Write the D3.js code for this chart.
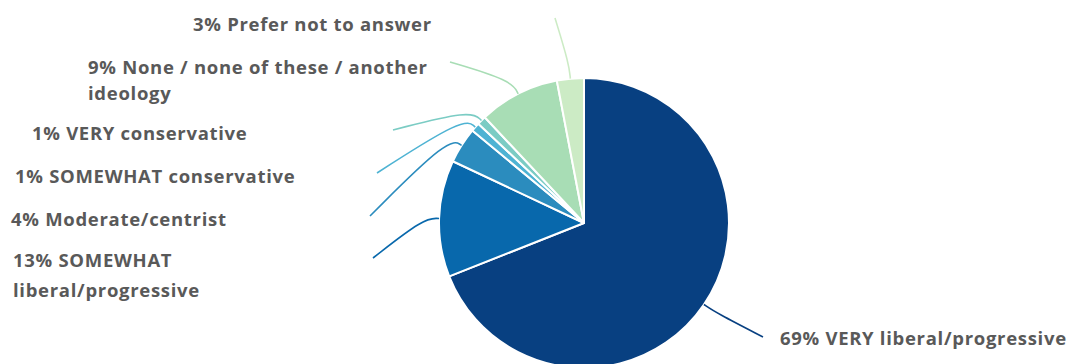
<!DOCTYPE html>
<html>
<head>
<meta charset="utf-8">
<script src="https://cdn.jsdelivr.net/npm/d3@7"></script>
<style>
  html, body { margin: 0; padding: 0; background: #ffffff; }
  svg { display: block; }
  .lbl { font-family: "Open Sans", "Noto Sans", sans-serif; font-weight: 700; font-size: 18.5px; letter-spacing: 0.7px; fill: #595959; }
</style>
</head>
<body>
<svg id="chart" width="1070" height="364"></svg>
<script>
// Political ideology of respondents (percent)
const categories = [
  "VERY liberal/progressive",
  "SOMEWHAT liberal/progressive",
  "Moderate/centrist",
  "SOMEWHAT conservative",
  "VERY conservative",
  "None / none of these / another ideology",
  "Prefer not to answer"
];
const values = [69, 13, 4, 1, 1, 9, 3];
const colors = ["#084081", "#0868ac", "#2b8cbe", "#4eb3d3", "#7bccc4", "#a8ddb5", "#ccebc5"];

// Label text, split into display lines
const labelLines = [
  ["69% VERY liberal/progressive"],
  ["13% SOMEWHAT", "liberal/progressive"],
  ["4% Moderate/centrist"],
  ["1% SOMEWHAT conservative"],
  ["1% VERY conservative"],
  ["9% None / none of these / another", "ideology"],
  ["3% Prefer not to answer"]
];

// Where each label sits and where its leader line ends
const labelLayout = [
  { x: 780, y: 345, lineH: 0,  end: [763, 337] },
  { x: 13,  y: 267, lineH: 30, end: [373, 258] },
  { x: 11,  y: 226, lineH: 0,  end: [370, 216] },
  { x: 15,  y: 183, lineH: 0,  end: [377, 173] },
  { x: 32,  y: 140, lineH: 0,  end: [393, 130] },
  { x: 88,  y: 74,  lineH: 26, end: [450, 62] },
  { x: 193, y: 31,  lineH: 0,  end: [555, 18] }
];

const cx = 584, cy = 223, radius = 145;
const svg = d3.select("#chart");
const g = svg.append("g").attr("transform", `translate(${cx},${cy})`);

const pie = d3.pie().sort(null).value(d => d)(values);
const arc = d3.arc().innerRadius(0).outerRadius(radius);

g.selectAll("path.slice")
  .data(pie)
  .join("path")
  .attr("class", "slice")
  .attr("d", arc)
  .attr("fill", (d, i) => colors[i])
  .attr("stroke", "#ffffff")
  .attr("stroke-width", 2)
  .attr("stroke-linejoin", "round");

// Leader lines: from the slice's outer edge, out along its mid angle, then to the label
const leader = d3.line().curve(d3.curveBasis);
function polar(a, r) { return [cx + r * Math.sin(a), cy - r * Math.cos(a)]; }

svg.selectAll("path.leader")
  .data(pie)
  .join("path")
  .attr("class", "leader")
  .attr("d", (d, i) => {
    const mid = (d.startAngle + d.endAngle) / 2;
    return leader([polar(mid, radius), polar(mid, radius + 15), labelLayout[i].end]);
  })
  .attr("fill", "none")
  .attr("stroke", (d, i) => colors[i])
  .attr("stroke-width", 1.6);

const labels = svg.selectAll("text.lbl")
  .data(labelLines)
  .join("text")
  .attr("class", "lbl")
  .attr("x", (d, i) => labelLayout[i].x)
  .attr("y", (d, i) => labelLayout[i].y);

labels.selectAll("tspan")
  .data((d, i) => d.map((t, j) => ({ t, j, i })))
  .join("tspan")
  .attr("x", d => labelLayout[d.i].x)
  .attr("dy", d => d.j === 0 ? 0 : labelLayout[d.i].lineH)
  .text(d => d.t);
</script>
</body>
</html>
